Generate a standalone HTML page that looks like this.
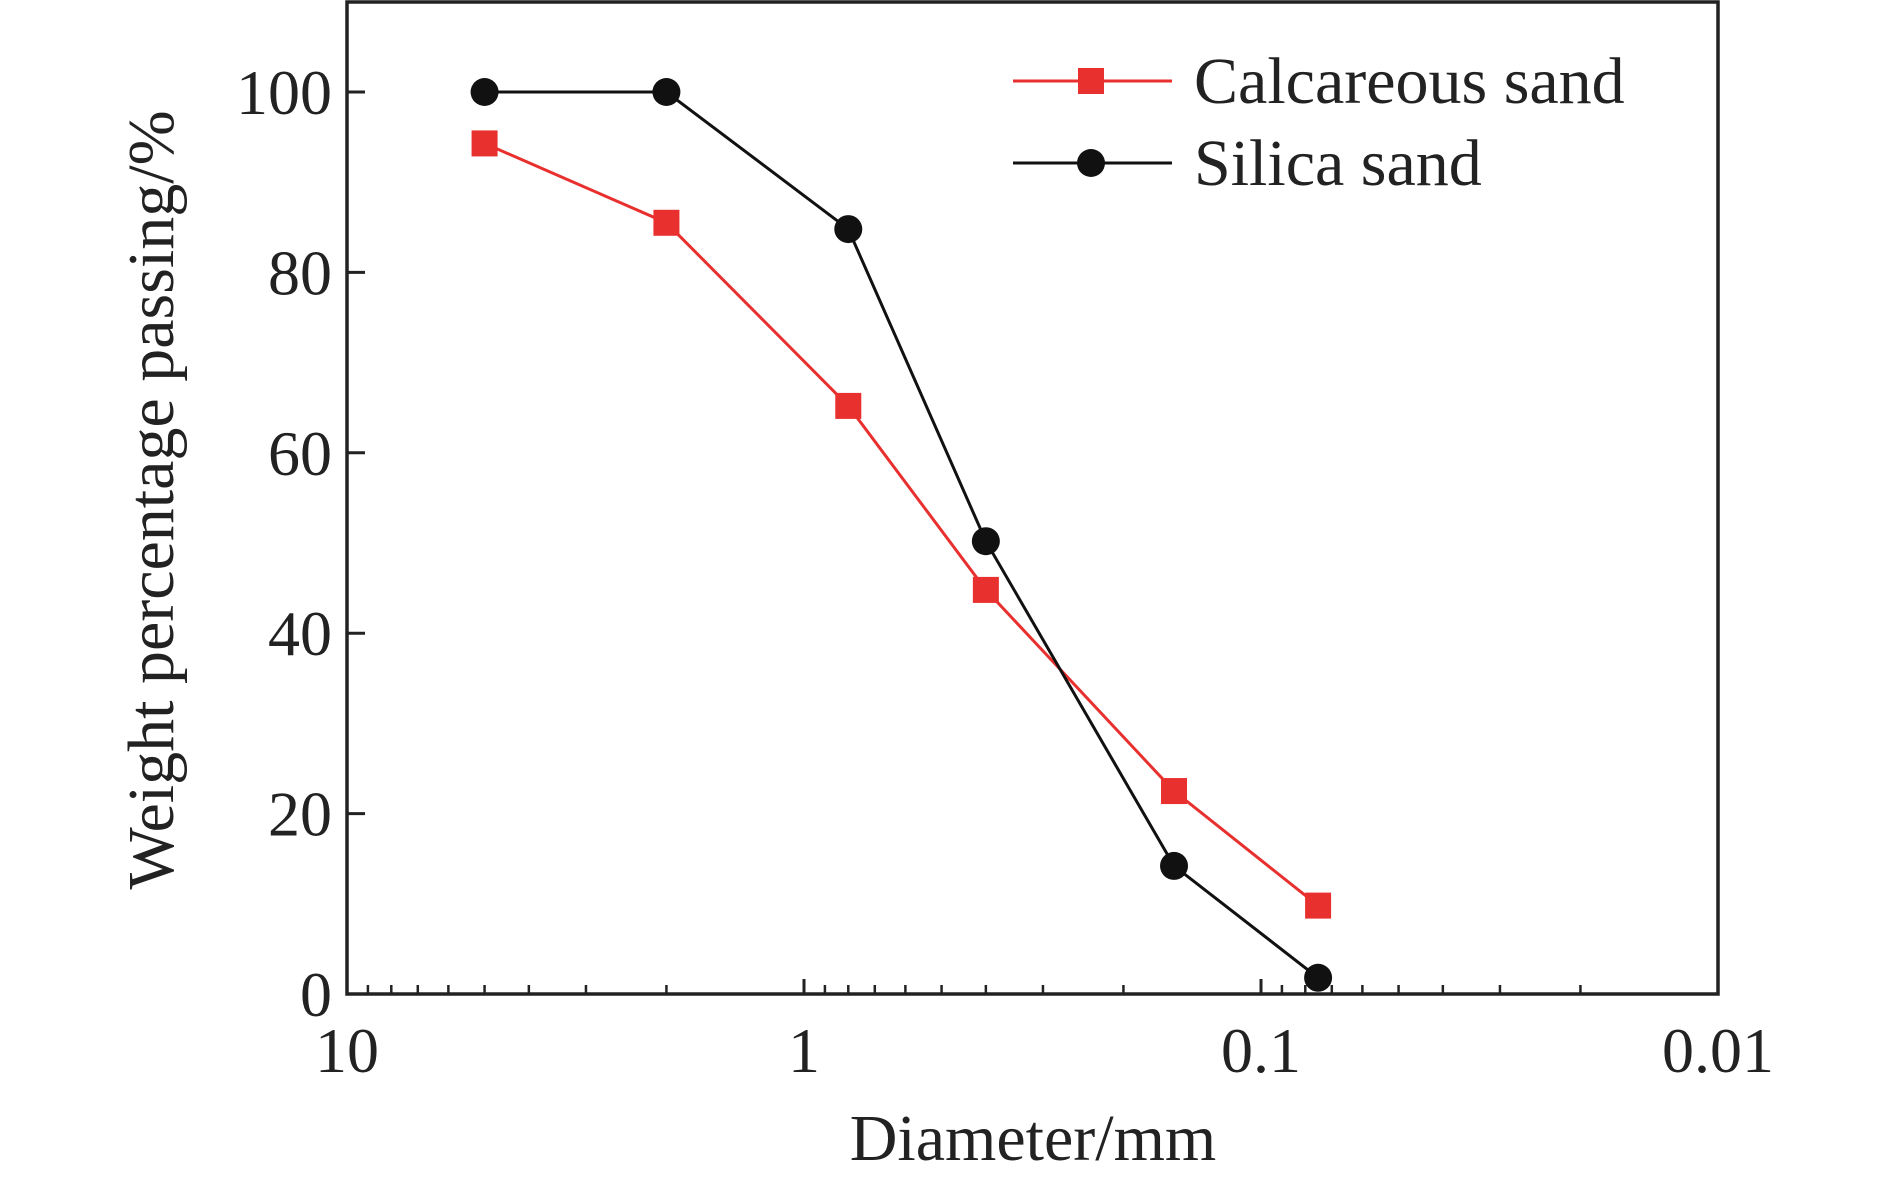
<!DOCTYPE html>
<html><head><meta charset="utf-8"><style>
html,body{margin:0;padding:0;background:#fff}
svg{display:block;font-family:"Liberation Serif",serif}
</style></head><body>
<svg id="chart" width="1890" height="1181" viewBox="0 0 1890 1181"></svg>
<script>
const diameters = [5, 2, 0.8, 0.4, 0.155, 0.075];
const calcareous = [94.3, 85.5, 65.2, 44.8, 22.5, 9.8];
const silica = [100, 100, 84.8, 50.2, 14.2, 1.8];
const yTicks = [0, 20, 40, 60, 80, 100];
const xTicks = [10, 1, 0.1, 0.01];
const xTickLabels = ["10", "1", "0.1", "0.01"];

const L = 347, R = 1718, T = 2, B = 994;
const NS = "http://www.w3.org/2000/svg";
const svg = document.getElementById('chart');
function xs(d){ return L + (1 - Math.log10(d)) * (R - L) / 3; }
function ys(v){ return 994 - v * (994 - 92) / 100; }
function mk(tag, attrs, parent){ const e = document.createElementNS(NS, tag); for (const k in attrs) e.setAttribute(k, attrs[k]); (parent||svg).appendChild(e); return e; }

const frame = mk('rect', {x:L, y:T, width:R-L, height:B-T, fill:'none', stroke:'#222', 'stroke-width':3.5});



yTicks.forEach(v => {
  const t = mk('line', {x1:L, x2:L+18, y1:ys(v), y2:ys(v), stroke:'#222', 'stroke-width':3});
  
  
  const lb = mk('text', {x:332, y:ys(v)+22, 'text-anchor':'end', 'font-size':64, fill:'#222'});
  lb.textContent = v;
  
  
});
xTicks.forEach((d, i) => {
  const t = mk('line', {x1:xs(d), x2:xs(d), y1:B, y2:B-15, stroke:'#222', 'stroke-width':3});
  
  
  const lb = mk('text', {x:xs(d), y:1072, 'text-anchor':'middle', 'font-size':64, fill:'#222'});
  lb.textContent = xTickLabels[i];
  
  
  if (i < xTicks.length - 1) {
    for (let m = 2; m <= 9; m++) {
      const md = d / 10 * m;
      const mt = mk('line', {x1:xs(md), x2:xs(md), y1:B, y2:B-9, stroke:'#222', 'stroke-width':2.5});
      
      
    }
  }
});

function series(vals, color, marker, name){
  const pts = diameters.map((d,i)=>xs(d)+','+ys(vals[i])).join(' ');
  const pl = mk('polyline', {points:pts, fill:'none', stroke:color, 'stroke-width':3});
  
  
  diameters.forEach((d,i)=>{
    let m;
    if (marker === 'square') m = mk('rect', {x:xs(d)-13, y:ys(vals[i])-13, width:26, height:26, fill:color});
    else m = mk('circle', {cx:xs(d), cy:ys(vals[i]), r:14, fill:color});
    
    
  });
}
series(calcareous, '#e8302f', 'square', 'calcareous-sand');
series(silica, '#111', 'circle', 'silica-sand');

function legend(y, color, marker, label, name){
  const g = mk('g', {});
  
  
  mk('line', {x1:1013, x2:1172, y1:y, y2:y, stroke:color, 'stroke-width':3}, g);
  if (marker === 'square') mk('rect', {x:1078, y:y-13, width:26, height:26, fill:color}, g);
  else mk('circle', {cx:1091, cy:y, r:14, fill:color}, g);
  const t = mk('text', {x:1194, y:y+22, 'font-size':66, fill:'#222'}, g);
  t.textContent = label;
}
legend(81, '#e8302f', 'square', 'Calcareous sand', 'legend-calcareous-sand');
legend(163, '#111', 'circle', 'Silica sand', 'legend-silica-sand');

const xt = mk('text', {x:1033, y:1160, 'text-anchor':'middle', 'font-size':66, fill:'#222'});
xt.textContent = 'Diameter/mm';


const yt = mk('text', {x:0, y:0, 'text-anchor':'middle', 'font-size':66, fill:'#222', transform:'translate(173,500) rotate(-90)'});
yt.textContent = 'Weight percentage passing/%';


</script>
</body></html>
